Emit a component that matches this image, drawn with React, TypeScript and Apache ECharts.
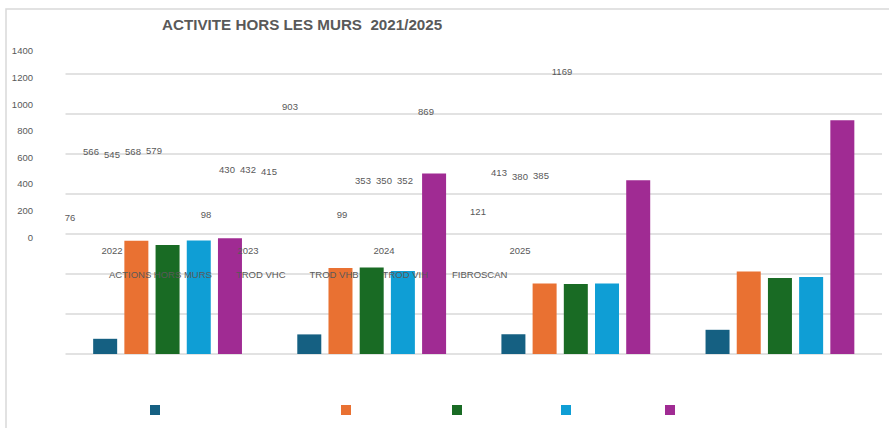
import React, { useEffect, useRef } from "react";
import * as echarts from "echarts";

const years = ["2022", "2023", "2024", "2025"];
const seriesNames = ["ACTIONS HORS MURS", "TROD VHC", "TROD VHB", "TROD VIH", "FIBROSCAN"];
const actionsHorsMurs = [76, 98, 99, 121];
const trodVhc = [566, 430, 353, 413];
const trodVhb = [545, 432, 350, 380];
const trodVih = [568, 415, 352, 385];
const fibroscan = [579, 903, 869, 1169];
const yMax = 1400;
const yStep = 200;
const titleText = "ACTIVITE HORS LES MURS  2021/2025";

const colors = ["#156082", "#E97132", "#196B24", "#0F9ED5", "#A02B93"];
const legendSquareLefts = [150, 341, 452, 561, 665];

export default function App() {
  const ref = useRef<HTMLDivElement>(null);
  useEffect(() => {
    const chart = echarts.init(ref.current!, null, { renderer: "svg" });
    const values = [actionsHorsMurs, trodVhc, trodVhb, trodVih, fibroscan];
    const font = "'Liberation Sans', Arial, sans-serif";
    const txt = "#595959";

    const realSeries = seriesNames.map((name, i) => ({
      name,
      type: "bar",
      xAxisIndex: 0,
      yAxisIndex: 0,
      data: values[i],
      barWidth: 24,
      barGap: "30%",
      z: 2,
      itemStyle: { color: colors[i] },
      label: { show: false },
    }));
    const ghostSeries = seriesNames.map((name, i) => ({
      name,
      type: "bar",
      xAxisIndex: 1,
      yAxisIndex: 1,
      data: values[i],
      barWidth: 16,
      barGap: "31.25%",
      silent: true,
      z: 8,
      itemStyle: { color: "rgba(0,0,0,0)" },
      label: {
        show: true,
        position: "top",
        distance: 5,
        fontSize: 9.5,
        color: txt,
        fontFamily: font,
      },
    }));

    const squareLegends = seriesNames.map((name, i) => ({
      data: [name],
      left: legendSquareLefts[i],
      top: 405,
      padding: 0,
      icon: "rect",
      itemWidth: 10,
      itemHeight: 10,
      formatter: () => "",
      textStyle: { fontSize: 9.5, lineHeight: 10 },
      selectedMode: false,
    }));

    chart.setOption({
      animation: false,
      backgroundColor: "#ffffff",
      color: colors,
      title: {
        text: titleText,
        left: 162,
        top: 17,
        padding: 0,
        textStyle: {
          fontFamily: font,
          fontWeight: "bold",
          fontSize: 15.2,
          color: txt,
        },
      },
      graphic: [
        {
          type: "rect",
          shape: { x: 6, y: 9, width: 900, height: 440 },
          style: { fill: "none", stroke: "#d9d9d9", lineWidth: 1.5 },
          silent: true,
        },
      ],
      legend: [
        ...squareLegends,
        {
          data: seriesNames,
          left: 104,
          top: 268,
          padding: 0,
          z: 12,
          itemGap: 19,
          itemWidth: 0,
          itemHeight: 0,
          icon: "rect",
          selectedMode: false,
          textStyle: { fontSize: 9.5, color: txt, fontFamily: font, lineHeight: 12 },
        },
      ],
      grid: [
        { left: 65.5, right: 7, top: 74, bottom: 74 },
        { left: 44, right: 301, top: 50.67, bottom: 190.67 },
      ],
      xAxis: [
        {
          type: "category",
          gridIndex: 0,
          data: years,
          axisLabel: { show: false },
          axisTick: { show: false },
          axisLine: { show: false },
        },
        {
          type: "category",
          gridIndex: 1,
          data: years,
          z: 12,
          axisTick: { show: false },
          axisLine: { show: false },
          axisLabel: {
            interval: 0,
            margin: 8.5,
            fontSize: 9.5,
            color: txt,
            fontFamily: font,
          },
        },
      ],
      yAxis: [
        {
          type: "value",
          gridIndex: 0,
          min: 0,
          max: yMax,
          interval: yStep,
          axisLabel: { show: false },
          axisLine: { show: false },
          axisTick: { show: false },
          splitLine: { show: true, lineStyle: { color: "#d9d9d9", width: 1.5 } },
        },
        {
          type: "value",
          gridIndex: 1,
          min: 0,
          max: yMax,
          interval: yStep,
          z: 12,
          axisLine: { show: false },
          axisTick: { show: false },
          splitLine: { show: false },
          axisLabel: {
            margin: 11,
            fontSize: 9.5,
            color: txt,
            fontFamily: font,
            formatter: (v: number) => String(v),
          },
        },
      ],
      series: [...realSeries, ...ghostSeries],
    });
    return () => chart.dispose();
  }, []);
  return (
    <div
      ref={ref}
      style={{ position: "absolute", left: 0, top: 0, width: 889, height: 428 }}
    />
  );
}
